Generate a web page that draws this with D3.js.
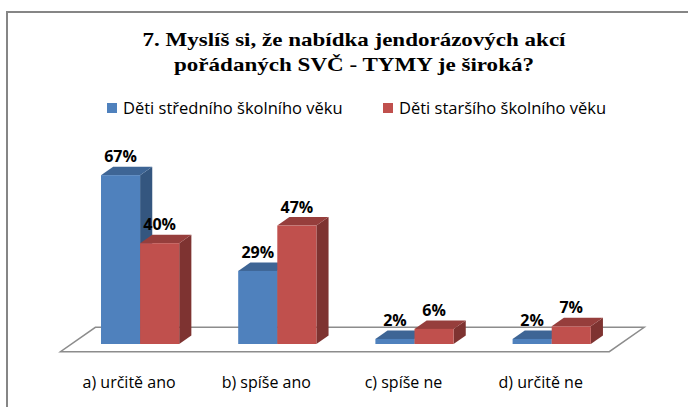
<!DOCTYPE html>
<html>
<head>
<meta charset="utf-8">
<script src="https://cdn.jsdelivr.net/npm/d3@7"></script>
<style>
  html, body { margin: 0; padding: 0; background: #fff; }
  svg { display: block; }
</style>
</head>
<body>
<svg id="chart" width="688" height="407"></svg>
<script>
const titleLines = ["7. Myslíš si, že nabídka jendorázových akcí", "pořádaných SVČ - TYMY je široká?"];
const categories = ["a) určitě ano", "b) spíše ano", "c) spíše ne", "d) určitě ne"];
const seriesNames = ["Děti středního školního věku", "Děti staršího školního věku"];
const seriesStredni = [67, 29, 2, 2];
const seriesStarsi = [40, 47, 6, 7];
const seriesValues = [seriesStredni, seriesStarsi];

const colors = [
  { front: "#4F81BD", top: "#3E6595", side: "#34567F" },
  { front: "#C0504D", top: "#963E3C", side: "#7E3331" }
];

const svg = d3.select("#chart");

// frame
svg.append("rect").attr("x", 7).attr("y", 12).attr("width", 700).attr("height", 420)
  .attr("fill", "#fff").attr("stroke", "#868686").attr("stroke-width", 2);

// title (stretched horizontally like the reference rendering)
const titleWidths = [423, 360];
titleLines.forEach((t, i) => {
  svg.append("text").attr("text-anchor", "middle")
    .attr("x", 354).attr("y", 46 + i * 25)
    .attr("font-family", "'Liberation Serif', 'Times New Roman', serif")
    .attr("font-weight", "bold").attr("font-size", 19.5).attr("fill", "#000")
    .attr("textLength", titleWidths[i]).attr("lengthAdjust", "spacingAndGlyphs")
    .text(t);
});

// legend
const legendX = [107, 383];
seriesNames.forEach((n, i) => {
  svg.append("rect").attr("x", legendX[i]).attr("y", 103).attr("width", 10).attr("height", 10)
    .attr("fill", colors[i].front);
  svg.append("text").attr("x", legendX[i] + 16).attr("y", 114)
    .attr("font-family", "'Open Sans', sans-serif").attr("font-size", 16.5).attr("fill", "#000")
    .text(n);
});

// scales
const base = 344;
const x0 = d3.scaleBand().domain(categories).range([71.5, 620.3]).paddingInner(0.43).paddingOuter(0.215);
const x1 = d3.scaleBand().domain(d3.range(seriesValues.length)).range([0, x0.bandwidth()]);
const y = d3.scaleLinear().domain([0, 100]).range([base, base - 252]);

// 3D geometry
const k = 1.43;          // dx per dy
const barDy = 8.5;       // bar depth (vertical)
const floorFront = 7.7;  // floor front edge below bar base
const floorBack = 16.7;  // floor back edge above bar base

const fl = x0.range()[0], fr = x0.range()[1];
const floorPts = [
  [fl - floorFront * k, base + floorFront],
  [fr - floorFront * k, base + floorFront],
  [fr + floorBack * k, base - floorBack],
  [fl + floorBack * k, base - floorBack]
];
svg.append("polygon").attr("points", floorPts.map(p => p.join(",")).join(" "))
  .attr("fill", "#fff").attr("stroke", "#8C8C8C").attr("stroke-width", 1.5);

// bars
const dx = barDy * k, dy = barDy;
const gBars = svg.append("g");
categories.forEach((c, ci) => {
  seriesValues.forEach((vals, si) => {
    const v = vals[ci];
    const xl = x0(c) + x1(si), w = x1.bandwidth();
    const yt = y(v);
    const g = gBars.append("g");
    g.append("polygon").attr("points", [
      [xl + w, yt], [xl + w + dx, yt - dy], [xl + w + dx, base - dy], [xl + w, base]
    ].map(p => p.join(",")).join(" ")).attr("fill", colors[si].side);
    g.append("polygon").attr("points", [
      [xl, yt], [xl + w, yt], [xl + w + dx, yt - dy], [xl + dx, yt - dy]
    ].map(p => p.join(",")).join(" ")).attr("fill", colors[si].top);
    g.append("rect").attr("x", xl).attr("y", yt).attr("width", w).attr("height", base - yt)
      .attr("fill", colors[si].front);
  });
});

// data labels
categories.forEach((c, ci) => {
  seriesValues.forEach((vals, si) => {
    const v = vals[ci];
    svg.append("text")
      .attr("x", x0(c) + x1(si) + x1.bandwidth() / 2)
      .attr("y", y(v) - 13)
      .attr("text-anchor", "middle")
      .attr("font-family", "'Open Sans', sans-serif").attr("font-weight", "bold")
      .attr("font-size", 16).attr("fill", "#000")
      .text(v + "%");
  });
});

// category labels
categories.forEach(c => {
  svg.append("text")
    .attr("x", x0(c) + x0.bandwidth() / 2 - floorFront * k)
    .attr("y", 388)
    .attr("text-anchor", "middle")
    .attr("font-family", "'Open Sans', sans-serif").attr("font-size", 16).attr("fill", "#000")
    .text(c);
});
</script>
</body>
</html>
